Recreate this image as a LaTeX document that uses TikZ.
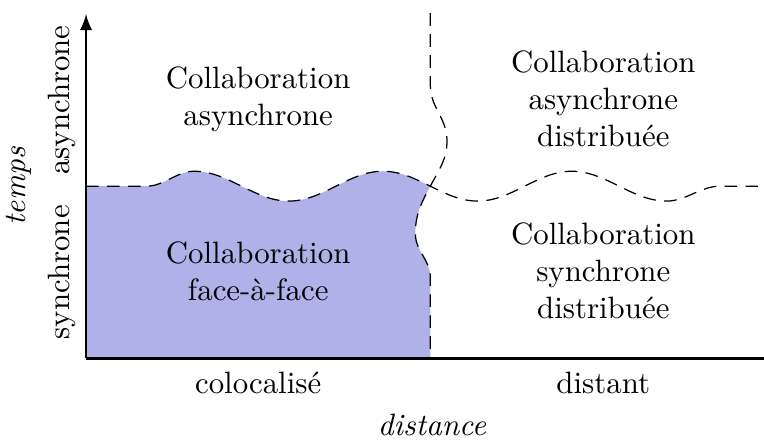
\documentclass[tikz,border=0pt]{standalone}
\usepackage{tikz}

\definecolor{facecol}{RGB}{176,177,233}
\tikzset{
  zone/.style={align=center},
  frontier/.style={dash pattern=on 4.1pt off 2.7pt},
  axe/.style={thick}
}

\begin{document}
\begin{tikzpicture}
\useasboundingbox (-0.98,-0.92) rectangle (7.72,4.08);

% zone face-a-face
\fill[facecol] (0,0) -- (0,1.96) -- (0.69,1.96) cos (0.96,2.045) sin (1.23,2.13)
  cos (1.77,1.96) sin (2.31,1.79) cos (2.845,1.96) sin (3.38,2.13) cos (3.92,1.96)
  to[out=242,in=90] (3.75,1.42) to[out=-90,in=90] (3.92,0.92) -- (3.92,0) -- cycle;

% frontieres
\draw[frontier] (0,1.96) -- (0.69,1.96) cos (0.96,2.045) sin (1.23,2.13)
  cos (1.77,1.96) sin (2.31,1.79) cos (2.845,1.96) sin (3.38,2.13) cos (3.92,1.96)
  sin (4.46,1.79) cos (4.995,1.96) sin (5.53,2.13) cos (6.07,1.96) sin (6.61,1.79)
  cos (6.915,1.875) sin (7.22,1.96) -- (7.65,1.96);
\draw[frontier] (3.92,3.93) -- (3.92,3.11) to[out=-90,in=90] (4.11,2.48)
  to[out=-90,in=62] (3.92,1.96) to[out=242,in=90] (3.75,1.42)
  to[out=-90,in=90] (3.92,0.92) -- (3.92,0);

% axes
\draw[axe,-latex] (0,0) -- (0,3.92);
\draw[axe] (0,0) -- (7.72,0);

\node[zone] (asyn) at (1.96,2.95) {Collaboration\\asynchrone};
\node[zone] (face) at (1.96,0.99) {Collaboration\\face-à-face};
\node[zone] (asyndist) at (5.89,2.96) {Collaboration\\asynchrone\\distribuée};
\node[zone] (syndist) at (5.89,1.00) {Collaboration\\synchrone\\distribuée};

\node (coloc) at (1.96,-0.28) {colocalisé};
\node (dist) at (5.89,-0.28) {distant};
\node (distance) at (3.94,-0.76) {\textit{distance}};

\node[rotate=90] (asynlab) at (-0.27,2.94) {asynchrone};
\node[rotate=90] (synlab) at (-0.27,0.98) {synchrone};
\node[rotate=90] (temps) at (-0.77,1.96) {\textit{temps}};
\end{tikzpicture}
\end{document}
